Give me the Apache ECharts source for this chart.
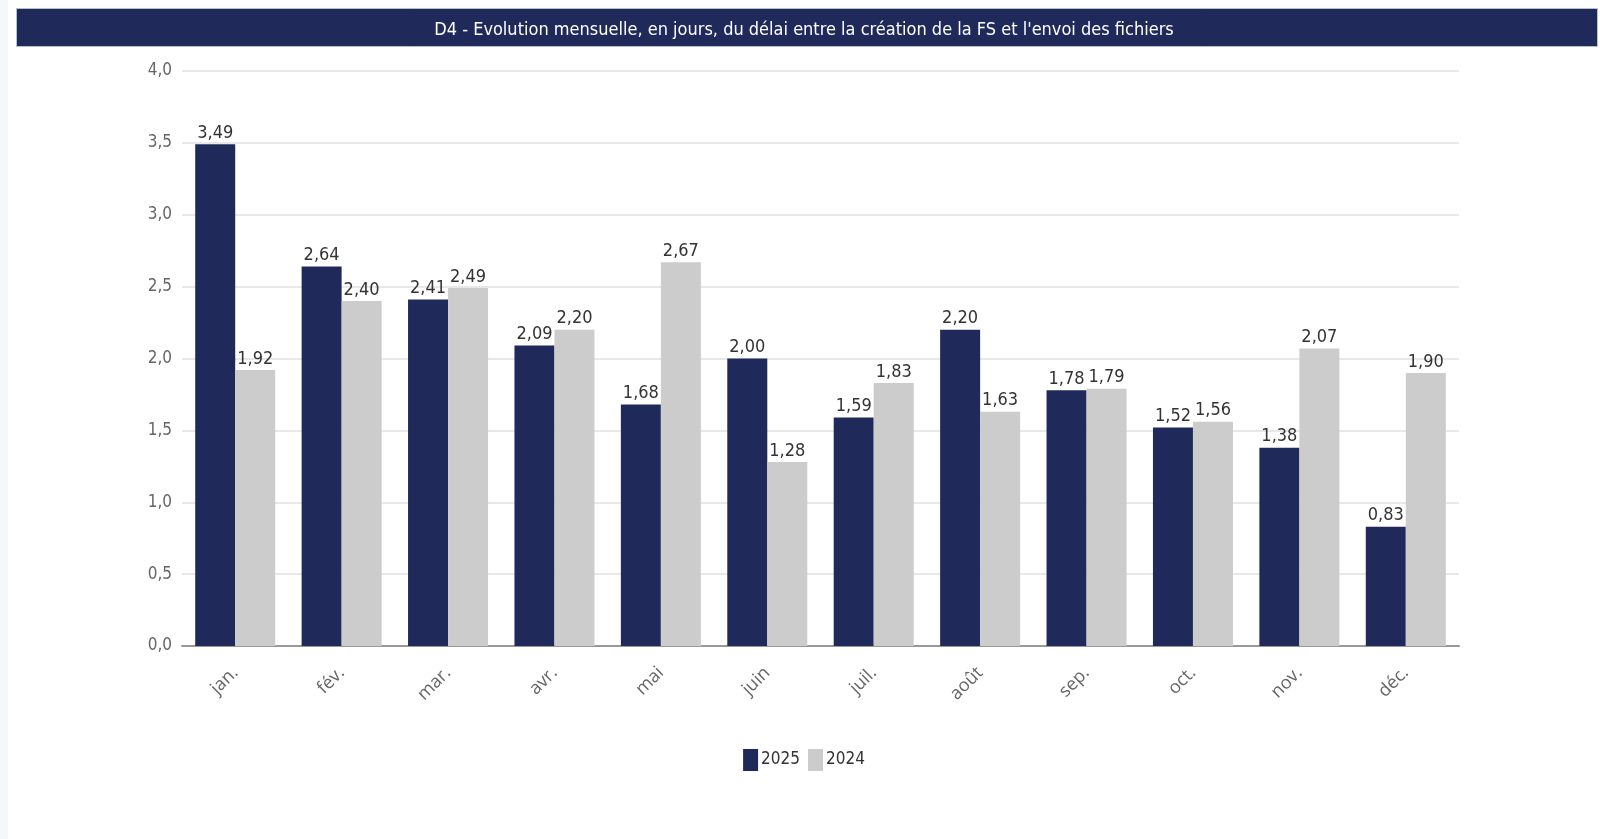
<!DOCTYPE html>
<html>
<head>
<meta charset="utf-8">
<script src="https://cdn.jsdelivr.net/npm/echarts@6/dist/echarts.min.js"></script>
<style>
  html, body { margin: 0; padding: 0; background: #f6f7f9; }
  #chart { position: absolute; left: 8px; top: 0; width: 1592px; height: 839px; background: #fff; }
</style>
</head>
<body>
<div id="chart"></div>
<script>
const months = ['jan.', 'fév.', 'mar.', 'avr.', 'mai', 'juin', 'juil.', 'août', 'sep.', 'oct.', 'nov.', 'déc.'];
const values2025 = [3.49, 2.64, 2.41, 2.09, 1.68, 2.00, 1.59, 2.20, 1.78, 1.52, 1.38, 0.83];
const values2024 = [1.92, 2.40, 2.49, 2.20, 2.67, 1.28, 1.83, 1.63, 1.79, 1.56, 2.07, 1.90];
const titleText = "D4 - Evolution mensuelle, en jours, du délai entre la création de la FS et l'envoi des fichiers";

const narrow = "'Liberation Sans Narrow', 'Arial Narrow', 'DejaVu Sans Condensed', sans-serif";

var myChart = echarts.init(document.getElementById('chart'));

// french decimal comma
function fr(v, d) {
    return Number(v).toFixed(d).replace('.', ',');
}

var barLabel = {
    show: true,
    position: 'top',
    distance: 2,
    color: '#333',
    fontSize: 18,
    fontFamily: narrow,
    formatter: p => fr(p.value, 2)
};

var option = {
    animation: false,
    graphic: [{
        type: 'rect',
        left: 8,
        top: 8,
        shape: { width: 1581, height: 38 },
        style: { fill: '#1f2a5a', stroke: '#b8bfd0', lineWidth: 1 },
        z: 0
    }],
    title: {
        text: titleText,
        left: 'center',
        top: 16,
        textStyle: { color: '#fff', fontFamily: narrow, fontSize: 18, fontWeight: 'normal' },
        z: 10
    },
    legend: {
        data: ['2025', '2024'],
        left: 'center',
        top: 744,
        icon: 'rect',
        itemWidth: 15,
        itemHeight: 22,
        itemGap: 8,
        textStyle: { color: '#333', fontSize: 17, fontFamily: narrow, padding: [0, 0, 0, -2] }
    },
    grid: { left: 174, right: 141, top: 71, bottom: 193 },
    xAxis: {
        type: 'category',
        data: months,
        axisLine: { lineStyle: { color: '#999', width: 2 } },
        axisTick: { show: false },
        axisLabel: {
            rotate: 45,
            margin: 24,
            padding: [28, 0, 0, 0],
            color: '#666',
            fontSize: 18,
            fontFamily: 'Open Sans, sans-serif'
        }
    },
    yAxis: {
        type: 'value',
        min: 0,
        max: 4,
        interval: 0.5,
        axisLine: { show: false },
        axisTick: { show: false },
        splitLine: { lineStyle: { color: '#e8e8e8', width: 2 } },
        axisLabel: {
            margin: 10,
            color: '#666',
            fontSize: 17,
            fontFamily: narrow,
            formatter: v => fr(v, 1)
        }
    },
    series: [{
        name: '2025',
        type: 'bar',
        data: values2025,
        barWidth: 40,
        barGap: '0%',
        itemStyle: { color: '#1f2a5a' },
        label: barLabel
    }, {
        name: '2024',
        type: 'bar',
        data: values2024,
        barWidth: 40,
        barGap: '0%',
        itemStyle: { color: '#cccccc' },
        label: barLabel
    }]
};

myChart.setOption(option);
</script>
</body>
</html>
